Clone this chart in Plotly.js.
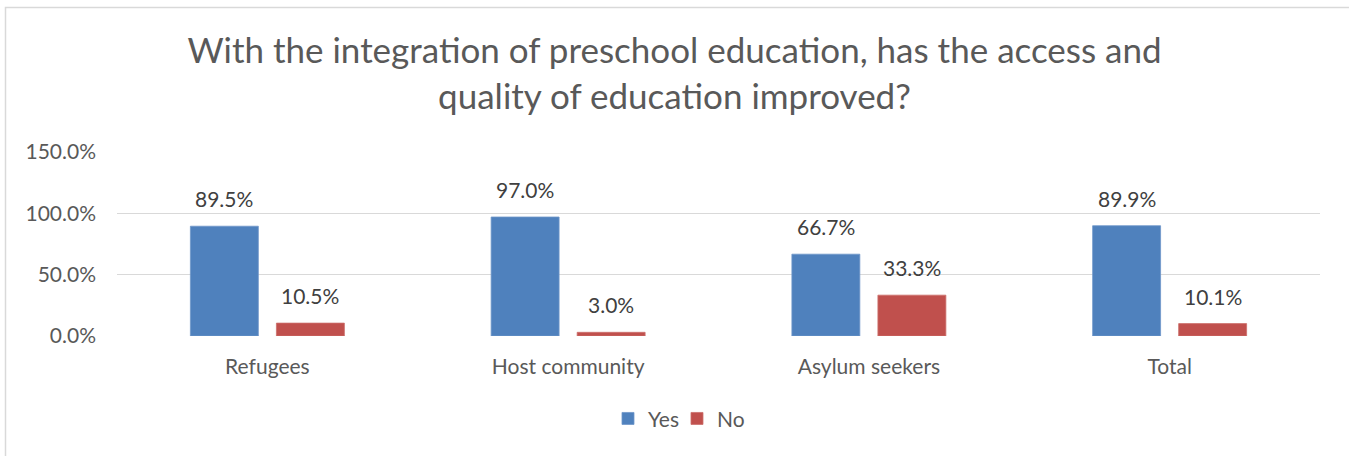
<!DOCTYPE html>
<html>
<head>
<meta charset="utf-8">
<script src="https://cdn.plot.ly/plotly-3.0.1.min.js"></script>
<style>html,body{margin:0;padding:0;background:#fff;}#chart{width:1349px;height:456px;}</style>
</head>
<body>
<div id="chart"></div>
<script>
const categories = ["Refugees", "Host community", "Asylum seekers", "Total"];
const yesValues = [0.895, 0.970, 0.667, 0.899];
const noValues = [0.105, 0.030, 0.333, 0.101];
const seriesNames = ["Yes", "No"];
const yTickValues = [0, 0.5, 1.0, 1.5];
const titleText = "With the integration of preschool education, has the access and<br>quality of education improved?";

const FONT = "Lato, 'Open Sans', sans-serif";
const TXT = "#595959";

const traces = [
  {type: "bar", name: seriesNames[0], x: categories, y: yesValues,
   marker: {color: "#4F81BD", line: {color: "#6F97C9", width: 0.8}}, hoverinfo: "none"},
  {type: "bar", name: seriesNames[1], x: categories, y: noValues,
   marker: {color: "#C0504D", line: {color: "#CB6E6B", width: 0.8}}, hoverinfo: "none"}
];

const annotations = [];
[yesValues, noValues].forEach((vals, s) => {
  vals.forEach((v, i) => {
    annotations.push({
      x: categories[i], y: v, xref: "x", yref: "y",
      text: (v * 100).toFixed(1) + "%",
      showarrow: false, yanchor: "bottom", xanchor: "center",
      xshift: s === 0 ? -43 : 43, yshift: 13,
      font: {family: FONT, size: 21, color: "#404040"}
    });
  });
});

const layout = {
  width: 1349, height: 456,
  margin: {l: 117, r: 29, t: 152, b: 120, pad: 0},
  paper_bgcolor: "#ffffff", plot_bgcolor: "#ffffff",
  font: {family: FONT, size: 21, color: TXT},
  title: {text: titleText, x: 0.5, xref: "container", xanchor: "center",
          y: 1 - 63/456, yref: "container", yanchor: "top",
          font: {family: FONT, size: 35, color: TXT}},
  barmode: "group", bargap: 0.428, bargroupgap: 0.21,
  xaxis: {type: "category", showgrid: false, zeroline: false, showline: false,
          ticks: "", ticklabelstandoff: 16, tickfont: {family: FONT, size: 21, color: TXT}, fixedrange: true},
  yaxis: {range: [0, 1.5], tickvals: yTickValues, tickformat: ".1%",
          showgrid: true, gridcolor: "#D9D9D9", gridwidth: 1.3, zeroline: false, showline: false,
          ticks: "", ticklabelstandoff: 20, tickfont: {family: FONT, size: 21, color: TXT}, fixedrange: true},
  showlegend: true,
  legend: {orientation: "h", x: 0.4655, xanchor: "center", y: -0.45, yanchor: "middle",
           entrywidth: 24, entrywidthmode: "pixels",
           font: {family: FONT, size: 21, color: TXT}, itemclick: false, itemdoubleclick: false,
           traceorder: "normal"},
  annotations: annotations,
  shapes: [{type: "rect", xref: "paper", yref: "paper",
            x0: (5.5 - 117) / 1203, x1: (1380 - 117) / 1203,
            y0: (336 - 500) / 184, y1: (336 - 7.5) / 184,
            line: {color: "#D9D9D9", width: 1.5}, fillcolor: "rgba(0,0,0,0)", layer: "below"}]
};

Plotly.newPlot("chart", traces, layout, {staticPlot: true, displayModeBar: false});
</script>
</body>
</html>
